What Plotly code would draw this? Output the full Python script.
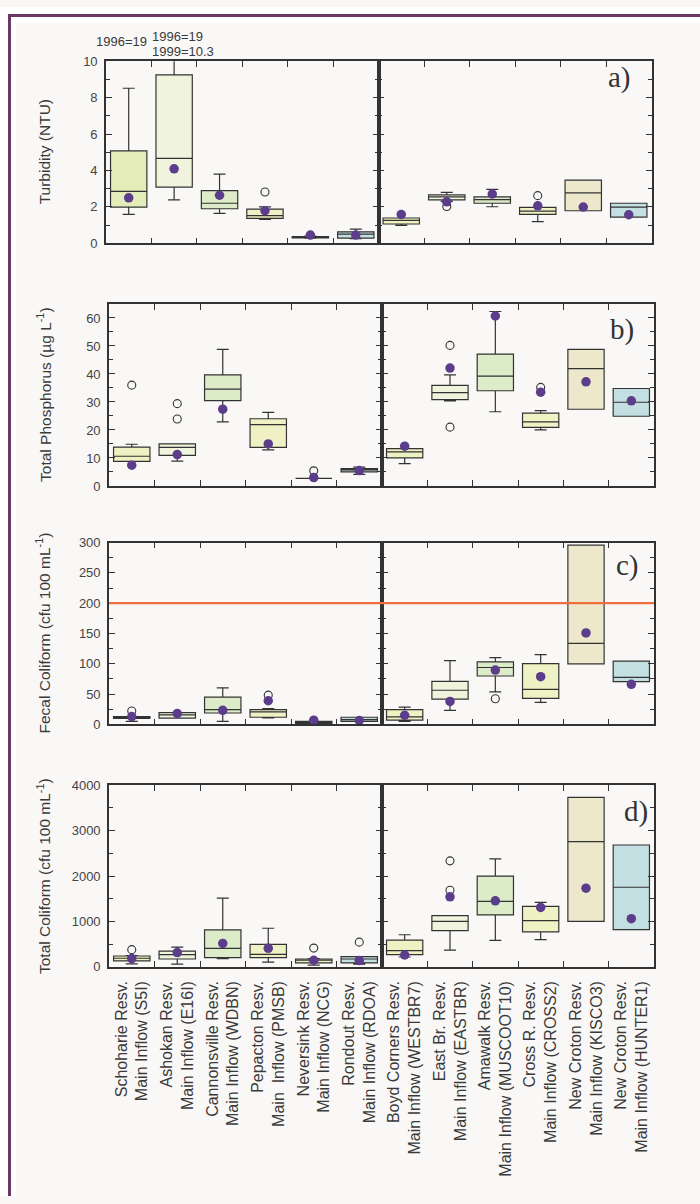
import plotly.graph_objects as go

W, H = 700, 1204

cats_w = ["Schoharie Resv.<br>Main Inflow (S5I)", "Ashokan Resv.<br>Main Inflow (E16I)",
          "Cannonsville Resv.<br>Main Inflow (WDBN)", "Pepacton Resv.<br>Main  Inflow (PMSB)",
          "Neversink Resv.<br>Main Inflow (NCG)", "Rondout Resv.<br>Main Inflow (RDOA)"]
cats_e = ["Boyd Corners Resv.<br>Main Inflow (WESTBR7)", "East Br. Resv.<br>Main Inflow (EASTBR)",
          "Amawalk Resv.<br>Main Inflow (MUSCOOT10)", "Cross R. Resv.<br>Main Inflow (CROSS2)",
          "New Croton Resv.<br>Main Inflow (KISCO3)", "New Croton Resv.<br>Main Inflow (HUNTER1)"]
cats = cats_w + cats_e

box_colors = ["#eef1c2", "#f1f4dc", "#dcebc8", "#eff1c4", "#eff1c4", "#c4dfe1",
              "#eef1c2", "#f1f4dc", "#dcebc8", "#eff2c4", "#ede8cb", "#c4dfe1"]

# a) Turbidity (NTU)
turb_lo = [1.59, 2.39, 1.64, 1.32, 0.28, 0.25, 0.99, 2.30, 2.01, 1.19, 1.79, 1.44]
turb_q1 = [1.99, 3.09, 1.90, 1.37, 0.30, 0.29, 1.06, 2.39, 2.20, 1.59, 1.79, 1.44]
turb_med = [2.85, 4.67, 2.20, 1.52, 0.33, 0.50, 1.26, 2.55, 2.40, 1.77, 2.77, 1.99]
turb_q3 = [5.08, 9.26, 2.89, 1.88, 0.37, 0.63, 1.39, 2.66, 2.55, 1.97, 3.47, 2.20]
turb_hi = [8.52, 10.2, 3.80, 2.00, 0.40, 0.78, 1.39, 2.80, 2.96, 1.97, 3.47, 2.20]
turb_mean = [2.50, 4.09, 2.64, 1.79, 0.45, 0.45, 1.59, 2.28, 2.71, 2.06, 1.99, 1.57]
turb_out = [[19], [19, 10.3], [], [2.82], [], [], [], [2.02], [], [2.62], [], []]

# b) Total Phosphorus (ug/L)
tp_lo = [8.8, 8.9, 22.9, 12.9, 2.7, 4.1, 8.0, 30.4, 26.5, 20.0, 27.4, 24.9]
tp_q1 = [8.8, 10.9, 30.5, 13.8, 2.7, 5.0, 10.0, 30.8, 34.0, 20.9, 27.4, 24.9]
tp_med = [10.6, 13.8, 34.6, 21.9, 2.7, 5.75, 12.2, 33.3, 39.2, 22.9, 41.9, 29.9]
tp_q3 = [13.9, 15.0, 39.7, 24.0, 2.7, 6.2, 13.3, 35.9, 47.1, 26.0, 48.8, 34.8]
tp_hi = [14.9, 15.0, 48.8, 26.3, 2.7, 6.7, 13.3, 39.7, 62.3, 26.9, 48.8, 34.8]
tp_mean = [7.4, 11.2, 27.4, 15.0, 3.0, 5.5, 14.2, 42.1, 60.7, 33.5, 37.2, 30.4]
tp_out = [[36.0], [29.4, 23.9], [], [], [5.4], [], [], [50.2, 21.0], [], [35.2], [], []]

# c) Fecal Coliform (cfu/100 mL)
fc_lo = [4.9, 10.3, 4.9, 11.0, 1.6, 4.9, 4.9, 23.3, 53.8, 36.4, 99.9, 70.6]
fc_q1 = [9.8, 10.3, 18.9, 11.9, 1.6, 4.9, 7.0, 41.7, 79.9, 42.9, 99.9, 70.6]
fc_med = [11.0, 15.7, 24.5, 20.6, 3.0, 8.1, 12.4, 56.4, 93.9, 58.0, 133.7, 77.6]
fc_q3 = [13.0, 19.5, 45.0, 24.5, 4.9, 11.9, 24.5, 71.1, 103.2, 100.4, 295.6, 104.3]
fc_hi = [13.0, 19.5, 60.3, 26.1, 4.9, 11.9, 28.7, 105.3, 110.2, 115.1, 295.6, 104.3]
fc_mean = [13.0, 17.9, 23.3, 39.1, 7.0, 6.5, 15.2, 38.0, 89.7, 78.8, 151.0, 66.2]
fc_out = [[22.2], [], [], [48.3], [], [], [], [], [42.4], [], [], []]
fc_standard = 200

# d) Total Coliform (cfu/100 mL)
tc_lo = [65, 59, 183, 103, 37, 60, 218, 371, 582, 598, 1004, 822]
tc_q1 = [131, 174, 205, 205, 87, 87, 270, 800, 1143, 772, 1004, 822]
tc_med = [190, 270, 408, 277, 146, 174, 357, 1004, 1440, 1019, 2757, 1753]
tc_q3 = [240, 349, 816, 495, 174, 227, 589, 1128, 2000, 1331, 3730, 2683]
tc_hi = [250, 436, 1513, 851, 183, 227, 707, 1128, 2377, 1418, 3730, 2683]
tc_mean = [183, 314, 517, 408, 146, 140, 262, 1542, 1455, 1309, 1732, 1062]
tc_out = [[380], [], [], [], [414], [545], [], [2334, 1688], [], [], [], []]

panels = [
    dict(lo=turb_lo, q1=turb_q1, med=turb_med, q3=turb_q3, hi=turb_hi, mean=turb_mean, out=turb_out,
         rng=[0, 10], dtick=2, minor=1, title="Turbidity (NTU)", letter="a)"),
    dict(lo=tp_lo, q1=tp_q1, med=tp_med, q3=tp_q3, hi=tp_hi, mean=tp_mean, out=tp_out,
         rng=[0, 65], dtick=10, minor=5, title="Total Phosphorus (µg L<sup>-1</sup>)", letter="b)"),
    dict(lo=fc_lo, q1=fc_q1, med=fc_med, q3=fc_q3, hi=fc_hi, mean=fc_mean, out=fc_out,
         rng=[0, 300], dtick=50, minor=25, title="Fecal Coliform (cfu 100 mL<sup>-1</sup>)", letter="c)"),
    dict(lo=tc_lo, q1=tc_q1, med=tc_med, q3=tc_q3, hi=tc_hi, mean=tc_mean, out=tc_out,
         rng=[0, 4000], dtick=1000, minor=500, title="Total Coliform (cfu 100 mL<sup>-1</sup>)", letter="d)"),
]

# pixel geometry: (top, bottom, left, divider, right)
geom = [(55, 239.3, 106, 378.5, 651.5), (300.7, 485, 109, 382, 654),
        (542.3, 726.5, 109, 382, 654), (788, 972, 109, 382, 654)]
letter_pos = [(633, 71), (636, 327), (641, 566), (650, 815)]

AX = "#333333"
TXT = "#3a3a3a"
MEAN = "#5b3d8b"
FONT = "Liberation Sans, Arial, sans-serif"

fig = go.Figure()
layout = {}
shapes = []
annotations = []

for r, p in enumerate(panels):
    top, bot, xl, xm, xr = geom[r]
    ydom = [1 - bot / H, 1 - top / H]
    for side in range(2):
        idx = 2 * r + 1 + side
        xa, ya = ("x%d" % idx, "y%d" % idx)
        xkey, ykey = ("xaxis%d" % idx, "yaxis%d" % idx)
        sub = cats_w if side == 0 else cats_e
        off = 0 if side == 0 else 6
        xdom = [xl / W, xm / W] if side == 0 else [xm / W, xr / W]
        for j, c in enumerate(sub):
            k = off + j
            col = box_colors[k]
            if r == 0 and k == 0:
                col = "#e4ecb9"
            fig.add_trace(go.Box(
                x=[c], q1=[p["q1"][k]], median=[p["med"][k]], q3=[p["q3"][k]],
                lowerfence=[p["lo"][k]], upperfence=[p["hi"][k]],
                fillcolor=col, line=dict(color=AX, width=1.2), width=0.8, whiskerwidth=0.33,
                boxpoints=False, showlegend=False, hoverinfo="skip", xaxis=xa, yaxis=ya))
        ox, oy = [], []
        for j, c in enumerate(sub):
            for v in p["out"][off + j]:
                ox.append(c)
                oy.append(v)
        if ox:
            fig.add_trace(go.Scatter(x=ox, y=oy, mode="markers", showlegend=False, hoverinfo="skip",
                                     marker=dict(symbol="circle-open", size=8, color=AX, line=dict(width=1.1)),
                                     xaxis=xa, yaxis=ya))
        fig.add_trace(go.Scatter(x=sub, y=p["mean"][off:off + 6], mode="markers", showlegend=False,
                                 hoverinfo="skip", marker=dict(size=9.5, color=MEAN),
                                 xaxis=xa, yaxis=ya))
        layout[xkey] = dict(
            domain=xdom, anchor=ya, type="category", categoryorder="array", categoryarray=sub,
            range=[-0.5, 5.5], tickson="boundaries", ticks="inside", ticklen=6, tickwidth=1.2,
            tickcolor=AX, mirror="ticks", showline=True, linecolor=AX, linewidth=1.6,
            showgrid=False, zeroline=False, showticklabels=(r == 3), tickangle=-90,
            tickfont=dict(family=FONT, size=16, color=TXT), ticklabelstandoff=6)
        layout[ykey] = dict(
            domain=ydom, anchor=xa, range=p["rng"], dtick=p["dtick"], tick0=0,
            ticks="inside", ticklen=6, tickwidth=1.2, tickcolor=AX, mirror="ticks",
            showline=True, linecolor=AX, linewidth=1.6, showgrid=False, zeroline=False,
            showticklabels=(side == 0), tickfont=dict(family=FONT, size=13, color="#444444"),
            ticklabelstandoff=4,
            minor=dict(dtick=p["minor"], tick0=0, ticks="inside", ticklen=4, tickwidth=1.2,
                       tickcolor=AX, showgrid=False))
    # divider
    shapes.append(dict(type="line", xref="paper", yref="paper", x0=xm / W, x1=xm / W,
                       y0=ydom[0], y1=ydom[1], line=dict(color=AX, width=1.8), layer="above"))
    # y title
    annotations.append(dict(text=p["title"], xref="paper", yref="paper", x=44 / W,
                            y=(ydom[0] + ydom[1]) / 2, textangle=-90, showarrow=False,
                            xanchor="center", yanchor="middle",
                            font=dict(family=FONT, size=15.5, color=TXT)))
    lx, ly = letter_pos[r]
    annotations.append(dict(text=p["letter"], xref="paper", yref="paper", x=lx / W, y=1 - ly / H,
                            showarrow=False, xanchor="right", yanchor="middle",
                            font=dict(family="Liberation Serif, Times New Roman, serif", size=29,
                                      color="#333333")))

# fecal coliform standard line
shapes.append(dict(type="line", xref="paper", yref="y5", x0=geom[2][2] / W, x1=geom[2][4] / W,
                   y0=fc_standard, y1=fc_standard, line=dict(color="#ee6e3e", width=2.2), layer="above"))

# off-scale notes on panel a
annotations += [
    dict(text="1996=19", xref="paper", yref="paper", x=149 / W, y=1 - 35 / H, showarrow=False,
         xanchor="right", yanchor="middle", font=dict(family=FONT, size=13, color=TXT)),
    dict(text="1996=19", xref="paper", yref="paper", x=150 / W, y=1 - 30 / H, showarrow=False,
         xanchor="left", yanchor="middle", font=dict(family=FONT, size=13, color=TXT)),
    dict(text="1999=10.3", xref="paper", yref="paper", x=150 / W, y=1 - 45 / H, showarrow=False,
         xanchor="left", yanchor="middle", font=dict(family=FONT, size=13, color=TXT)),
]

# page frame: white strips + purple border
BORDER = "#6b3766"
shapes = [
    dict(type="rect", xref="paper", yref="paper", x0=0, x1=16 / W, y0=0, y1=1,
         fillcolor="white", line=dict(width=0), layer="below"),
    dict(type="rect", xref="paper", yref="paper", x0=0, x1=1, y0=1 - 16 / H, y1=1,
         fillcolor="white", line=dict(width=0), layer="below"),
    dict(type="rect", xref="paper", yref="paper", x0=8 / W, x1=11 / W, y0=0, y1=1 - 7 / H,
         fillcolor=BORDER, line=dict(width=0), layer="below"),
    dict(type="rect", xref="paper", yref="paper", x0=8 / W, x1=1, y0=1 - 10 / H, y1=1 - 7 / H,
         fillcolor=BORDER, line=dict(width=0), layer="below"),
] + shapes

fig.update_layout(
    width=W, height=H, margin=dict(l=0, r=0, t=0, b=0),
    paper_bgcolor="#f9f8f7", plot_bgcolor="rgba(0,0,0,0)",
    showlegend=False, boxmode="overlay", shapes=shapes, annotations=annotations,
    font=dict(family=FONT, color=TXT), **layout)

fig.write_html("out.html")
